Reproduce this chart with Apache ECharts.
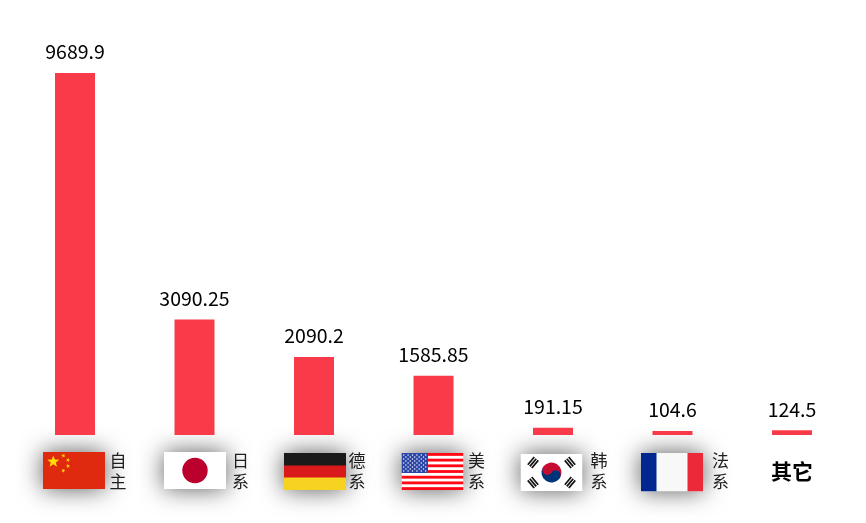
<!DOCTYPE html>
<html>
<head>
<meta charset="utf-8">
<style>html,body{margin:0;padding:0;background:#fff}#c{width:866px;height:523px}</style>
<script src="https://cdn.jsdelivr.net/npm/echarts@6/dist/echarts.min.js"></script>
</head>
<body>
<div id="c"></div>
<script>
const categories = ['自主', '日系', '德系', '美系', '韩系', '法系', '其它'];
const values = [9689.9, 3090.25, 2090.2, 1585.85, 191.15, 104.6, 124.5];
const flagKeys = ['cn', 'jp', 'de', 'us', 'kr', 'fr', null];

const labelShift = [43, 46, 43, 43, 46, 48, 0];
const flagShift = [-1, 0.5, 1, -1, -1.5, -0.5, 0];
const flagDrop = [17, 17, 18, 18, 19, 18, 0];
const flagHeight = [37, 37, 37, 37, 37, 38.5, 0];
const W = 62;

function star(cx, cy, r, rot) {
  let p = [];
  for (let i = 0; i < 10; i++) {
    const a = rot + i * Math.PI / 5, q = i % 2 ? r * 0.42 : r;
    p.push((cx + q * Math.sin(a)).toFixed(2) + ',' + (cy - q * Math.cos(a)).toFixed(2));
  }
  return `<polygon fill="#FFDE00" points="${p.join(' ')}"/>`;
}
function usFlag() {
  let s = '<rect width="62" height="37" fill="#fff"/>';
  for (let i = 0; i < 7; i++) s += `<rect y="${(i * 2 * 37 / 13).toFixed(2)}" width="62" height="${(37 / 13).toFixed(2)}" fill="#FF0A14"/>`;
  s += '<rect width="26.5" height="20" fill="#2B46A6"/>';
  for (let r = 0; r < 9; r++) for (let c = 0; c < (r % 2 ? 5 : 6); c++)
    s += `<circle cx="${(2.2 + c * 4.4 + (r % 2 ? 2.2 : 0)).toFixed(1)}" cy="${(2 + r * 2).toFixed(1)}" r="0.7" fill="#fff"/>`;
  return s;
}
function krFlag() {
  const bars = (x, y, rot) => {
    let s = `<g transform="translate(${x} ${y}) rotate(${rot})">`;
    for (let i = 0; i < 3; i++) s += `<rect x="-5" y="${-3.4 + i * 2.6}" width="10" height="1.7" fill="#111"/>`;
    return s + '</g>';
  };
  return '<rect width="62" height="37" fill="#fff"/>' +
    '<g transform="rotate(33.7 31 18.5)">' +
    '<path d="M21 18.5a10 10 0 0 1 20 0z" fill="#C60C30"/>' +
    '<path d="M21 18.5a10 10 0 0 0 20 0z" fill="#003478"/>' +
    '<circle cx="26" cy="18.5" r="5" fill="#C60C30"/><circle cx="36" cy="18.5" r="5" fill="#003478"/></g>' +
    bars(12.5, 8.5, -50) + bars(49.5, 8.5, 50) + bars(12.5, 28.5, 50) + bars(49.5, 28.5, -50);
}
const flagArt = {
  cn: '<rect width="62" height="37" fill="#E02A10"/>' + star(10.3, 9.7, 6.3, 0) + star(20.3, 3.7, 2.2, 0.9) + star(25, 8, 2.2, 0.3) + star(25, 14, 2.2, -0.2) + star(20.3, 18.7, 2.2, -0.8),
  jp: '<rect width="62" height="37" fill="#fff"/><circle cx="31" cy="18.5" r="12.7" fill="#BC002D"/>',
  de: '<rect width="62" height="37" fill="#F8D220"/><rect width="62" height="24.5" fill="#DA1A1A"/><rect width="62" height="12.5" fill="#1A1A1A"/>',
  us: usFlag(),
  kr: krFlag(),
  fr: '<rect width="62" height="37" fill="#F8F8F8"/><rect width="15.5" height="37" fill="#00268F"/><rect x="46.5" width="15.5" height="37" fill="#EC2938"/>'
};
const flagUrl = {};
Object.keys(flagArt).forEach(k => {
  const svg = `<svg xmlns="http://www.w3.org/2000/svg" width="248" height="148" viewBox="0 0 62 37" preserveAspectRatio="none">${flagArt[k]}</svg>`;
  flagUrl[k] = 'data:image/svg+xml;charset=utf-8,' + encodeURIComponent(svg);
});

const rich = { other: { fontSize: 21, lineHeight: 42, fontWeight: 'bold', color: '#000', fontFamily: 'Noto Sans CJK SC' } };
labelShift.forEach((s, i) => {
  rich['t' + i] = { fontSize: 17, lineHeight: 21, color: '#222', fontFamily: 'Noto Sans CJK SC', padding: [0, 0, 0, s * 2] };
});

const chart = echarts.init(document.getElementById('c'), null, { renderer: 'canvas' });
chart.setOption({
  animation: false,
  backgroundColor: '#fff',
  grid: { left: 15.25, right: 14.25, top: 61.4, bottom: 88 },
  xAxis: {
    type: 'category',
    data: categories,
    axisLine: { show: false },
    axisTick: { show: false },
    splitLine: { show: false },
    axisLabel: {
      interval: 0,
      margin: 15,
      formatter: (name, i) => flagKeys[i]
        ? `{t${i}|${name[0]}}\n{t${i}|${name[1]}}`
        : `{other|${name}}`,
      rich
    }
  },
  yAxis: { type: 'value', min: 0, max: 10000, show: false },
  series: [
    {
      type: 'custom',
      clip: false,
      silent: true,
      z: 1,
      data: categories.map((c, i) => [i, 0]),
      encode: { x: 0, y: 1 },
      renderItem(params, api) {
        const i = api.value(0), key = flagKeys[i];
        if (!key) return null;
        const p = api.coord([i, 0]);
        return {
          type: 'image',
          style: {
            image: flagUrl[key],
            x: p[0] + flagShift[i] - W / 2, y: p[1] + flagDrop[i], width: W, height: flagHeight[i],
            shadowBlur: 24, shadowColor: 'rgba(0,0,0,0.65)', shadowOffsetX: 0, shadowOffsetY: 0
          }
        };
      }
    },
    {
      type: 'bar',
      z: 2,
      barWidth: 40,
      data: values,
      itemStyle: { color: '#F93A49' },
      label: {
        show: true, position: 'top', distance: 11.5,
        color: '#000', fontSize: 19.5, fontFamily: 'Noto Sans CJK SC'
      }
    }
  ]
});
</script>
</body>
</html>
